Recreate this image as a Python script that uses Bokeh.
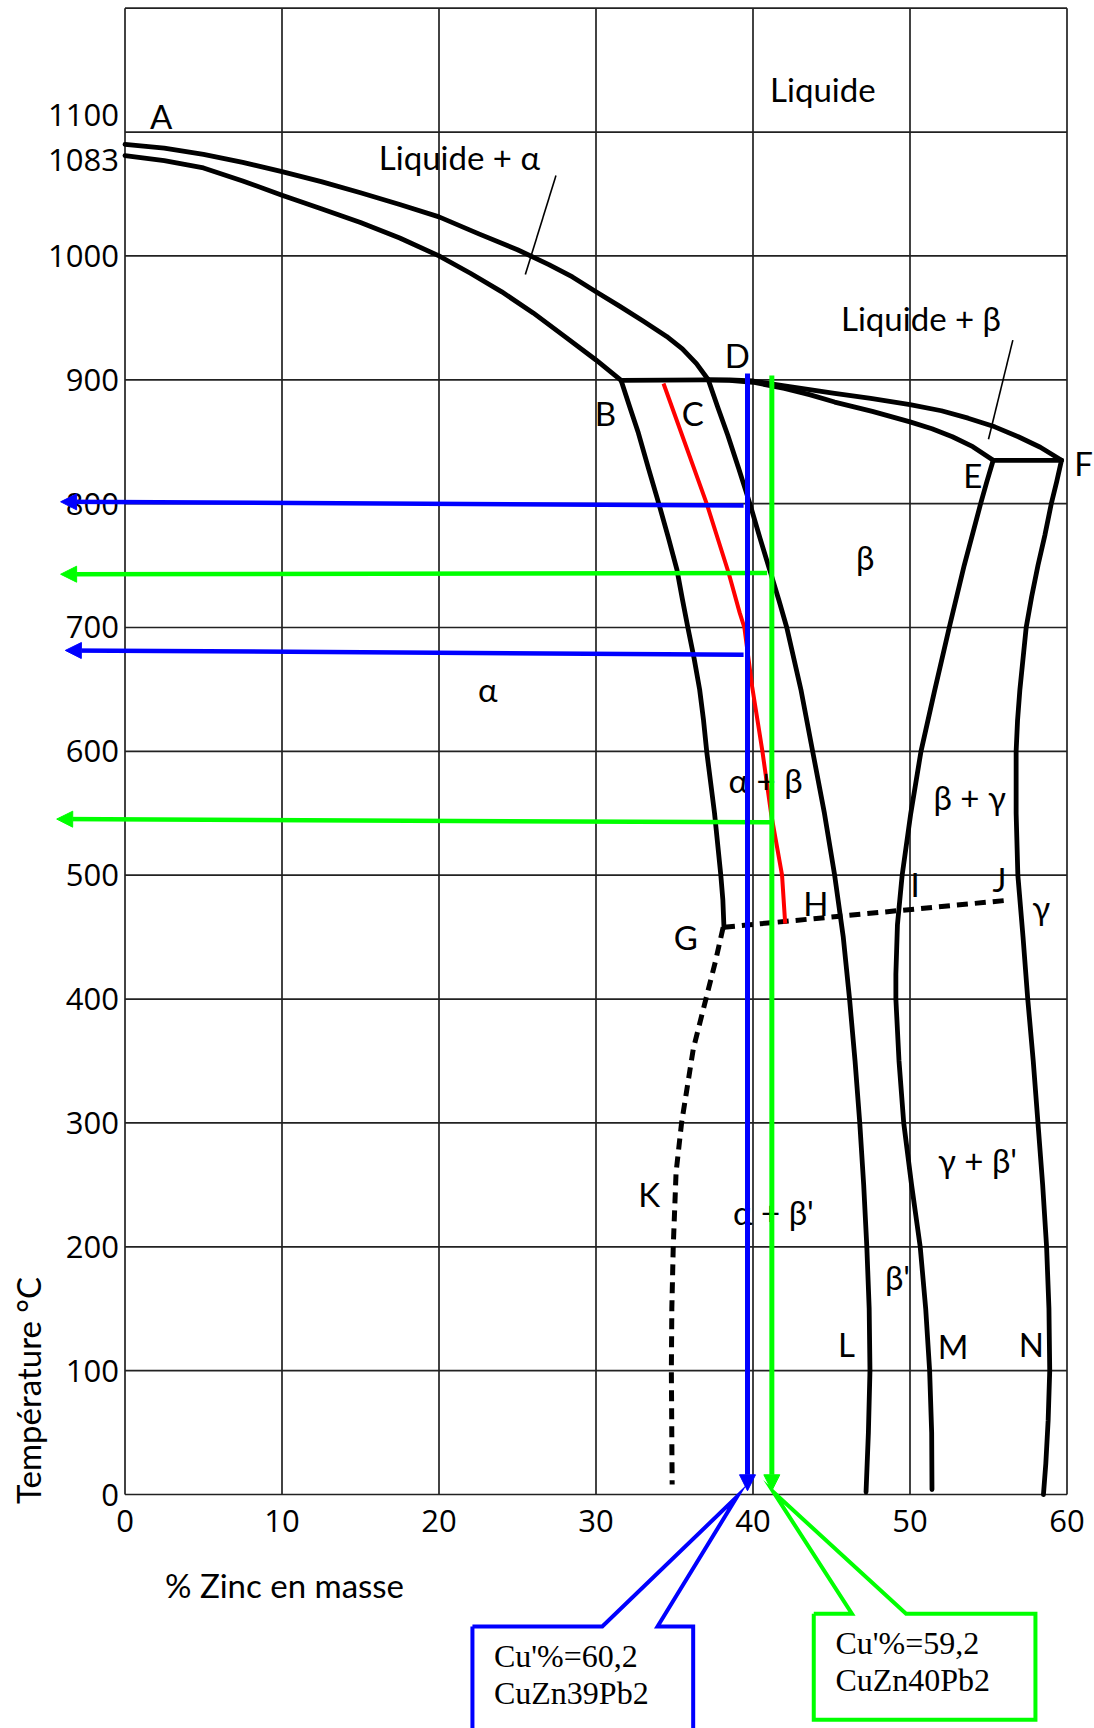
from math import pi
from bokeh.plotting import figure
from bokeh.models import Range1d, FixedTicker, Arrow, NormalHead, Label, LinearAxis
from bokeh.core.properties import value
from bokeh.embed import file_html
from bokeh.resources import INLINE

# ---------------- data ----------------
x_ticks = [0, 10, 20, 30, 40, 50, 60]
y_ticks = [0, 100, 200, 300, 400, 500, 600, 700, 800, 900, 1000, 1100]
y_axis_ticks = [0, 100, 200, 300, 400, 500, 600, 700, 800, 900, 1000]
y_top_tick = 1100
cu_melting = 1083
x_max = 60
t_max = 1200

# liquidus A -> C
liq_a_x = [0, 2.5, 5, 7.5, 10, 12.5, 15, 17.5, 20, 22.5, 25, 27, 28.5, 30, 31.5, 33, 34.5, 35.5, 36.4, 37.15]
liq_a_t = [1090, 1087, 1082, 1075.5, 1068, 1060, 1051, 1041.5, 1031.5, 1018, 1005, 993, 983, 971, 959.5, 947.5, 935, 925, 913, 900]
# solidus A -> B
sol_a_x = [0, 2.5, 5, 7.5, 10, 12.5, 15, 17.5, 20, 22, 24, 26, 28, 30, 31.6]
sol_a_t = [1081, 1077, 1071, 1060.5, 1049, 1038, 1027, 1014.5, 1000, 986, 971, 954, 935, 916, 899.5]
# peritectic B -> C
per_x = [31.6, 37.15]
per_t = [899.5, 900]
# liquidus C -> F
liq_b_x = [37.15, 38.5, 40, 42, 45.2, 47.5, 50, 52, 53.7, 55.4, 56.9, 58.3, 59.65]
liq_b_t = [900, 900, 899, 895, 889, 885, 880, 875, 869, 862, 854, 845.5, 835]
# solidus C -> E
sol_b_x = [37.15, 38.5, 40, 42, 43.6, 45.2, 47.6, 50, 51.4, 52.7, 54.0, 55.3]
sol_b_t = [900, 899.5, 898, 893, 888, 882, 874.5, 866, 860.5, 854, 846, 835]
# E - F
ef_x = [55.3, 59.65]
ef_t = [835, 835]
# B -> G
bg_x = [31.6, 32.15, 32.7, 33.35, 34.0, 34.6, 35.15, 35.5, 35.85, 36.25, 36.6, 36.85, 37.05, 37.3, 37.55, 37.75, 37.95, 38.08, 38.15]
bg_t = [899.5, 878, 857, 828, 800, 773, 747, 723, 700, 675, 650, 625, 600, 575, 550, 525, 500, 480, 458]
# C -> L
cl_x = [37.15, 37.75, 38.4, 39.1, 39.8, 40.45, 41.1, 41.65, 42.15, 43.05, 43.8, 44.55, 45.2, 45.75, 46.15, 46.5, 46.8, 47.05, 47.25, 47.4, 47.45, 47.35, 47.2]
cl_t = [900, 878, 855, 828, 800, 772, 745, 722, 700, 650, 600, 550, 500, 450, 400, 350, 300, 250, 200, 150, 100, 50, 2]
# E -> M
em_x = [55.3, 54.9, 54.5, 53.45, 52.5, 51.55, 50.7, 50.05, 49.5, 49.2, 49.1, 49.1, 49.3, 49.6, 50.1, 50.65, 51.0, 51.25, 51.38, 51.4]
em_t = [835, 818, 800, 750, 700, 648, 600, 550, 500, 460, 420, 400, 350, 300, 250, 200, 150, 100, 50, 4]
# F -> N
fn_x = [59.65, 59.35, 59.0, 58.6, 58.15, 57.75, 57.4, 57.2, 57.0, 56.85, 56.76, 56.76, 56.87, 57.2, 57.5, 57.85, 58.15, 58.45, 58.7, 58.85, 58.9, 58.8, 58.65, 58.5]
fn_t = [835, 818, 800, 775, 750, 725, 700, 675, 650, 625, 600, 550, 500, 450, 400, 350, 300, 250, 200, 150, 100, 60, 25, 0]
# dashed G - J and G - K
gj_x = [38.15, 56.4]
gj_t = [458, 480]
gk_x = [38.1, 37.6, 37.0, 36.2, 35.45, 35.1, 34.92, 34.83, 34.8, 34.85]
gk_t = [458, 430, 400, 360, 300, 260, 200, 150, 100, 8]
# red line
red_x = [34.3, 37.05, 38.45, 39.15, 39.45, 39.95, 40.6, 41.15, 41.85, 42.05]
red_t = [897, 800, 744, 712, 700, 652, 600, 550, 500, 461]
# leader lines
lead_a_x = [27.45, 25.5]
lead_a_t = [1065, 985]
lead_b_x = [56.55, 55.0]
lead_b_t = [932, 852]

# alloys (vertical arrows)
alloy_x = [39.65, 41.2]
alloy_t_top = [905, 903.5]
alloy_t_end = [3, 3]
alloy_col = ["#0000ff", "#00ff00"]
# temperature readings (horizontal arrows)
read_x0 = [39.4, 40.9, 39.4, 41.1]
read_t0 = [798.5, 744, 678, 542.7]
read_x1 = [-4.1, -4.1, -3.8, -4.35]
read_t1 = [801.5, 743, 681.5, 545.3]
read_col = ["#0000ff", "#00ff00", "#0000ff", "#00ff00"]

# callouts
blue_call_x = [22.13, 30.4, 39.0, 33.92, 36.19, 36.19, 22.13, 22.13]
blue_call_t = [-106.6, -106.6, -1.5, -106.6, -106.6, -215, -215, -106.6]
green_call_x = [43.87, 46.3, 41.3, 49.75, 57.99, 57.99, 43.87, 43.87]
green_call_t = [-96.3, -96.3, 2.0, -96.3, -96.3, -181.9, -181.9, -96.3]
blue_text = ["Cu'%=60,2", "CuZn39Pb2"]
blue_text_x = [23.5, 23.5]
blue_text_t = [-130.5, -160.4]
green_text = ["Cu'%=59,2", "CuZn40Pb2"]
green_text_x = [45.25, 45.25]
green_text_t = [-120.2, -149.8]

# region labels
reg_text = ["Liquide", "Liquide + α", "Liquide + β", "α", "β", "α + β", "β + γ", "γ", "γ + β'", "α + β'", "β'"]
reg_x = [44.45, 21.3, 50.7, 23.1, 47.15, 40.8, 53.8, 58.35, 54.3, 41.3, 49.2]
reg_t = [1135, 1080, 950, 650, 757, 577, 563, 474, 270, 228, 176]
# point labels
pt_text = ["A", "B", "C", "D", "E", "F", "G", "H", "I", "J", "K", "L", "M", "N"]
pt_x = [2.3, 30.6, 36.17, 39.0, 54.0, 61.05, 35.72, 44.0, 50.33, 55.7, 33.38, 45.95, 52.75, 57.73]
pt_t = [1113, 873, 873, 920, 823, 833, 450, 477.5, 493, 497, 243, 121.5, 120, 121.5]

# ---------------- layout (pixels) ----------------
CANVAS_W, CANVAS_H = 1094, 1728
BOX_LEFT, BOX_RIGHT = 124.5, 1066.5     # x = 0 and x = 60
BOX_TOP, BOX_BOTTOM = 7.7, 1494.0       # T = 1200 and T = 0
kx = (BOX_RIGHT - BOX_LEFT) / x_max
ky = (BOX_BOTTOM - BOX_TOP) / t_max
x_range = Range1d(-BOX_LEFT / kx, (CANVAS_W - BOX_LEFT) / kx)
y_range = Range1d(-(CANVAS_H - BOX_BOTTOM) / ky, BOX_BOTTOM / ky)

SANS = "Lato"
TICK_FONT = "Open Sans"
TICK_SIZE = "31px"
p = figure(width=CANVAS_W, height=CANVAS_H, x_range=x_range, y_range=y_range,
           output_backend="svg", toolbar_location=None, x_axis_location=None, y_axis_location=None,
           min_border=0)
p.background_fill_color = "white"
p.border_fill_color = "white"
p.outline_line_color = None
p.xgrid.visible = False
p.ygrid.visible = False

# axes fixed on the box edges
xax = LinearAxis(ticker=FixedTicker(ticks=x_ticks), fixed_location=0)
yax = LinearAxis(ticker=FixedTicker(ticks=y_axis_ticks), fixed_location=0)
for ax in (xax, yax):
    ax.axis_line_color = None
    ax.major_tick_line_color = None
    ax.minor_tick_line_color = None
    ax.major_tick_out = 0
    ax.major_tick_in = 0
    ax.major_label_text_font = TICK_FONT
    ax.major_label_text_font_size = TICK_SIZE
    ax.major_label_text_color = "black"
xax.major_label_standoff = 15
yax.major_label_standoff = 6
p.add_layout(xax, "below")
p.add_layout(yax, "left")

# the two top labels are pushed apart, as in the original drawing
for t, dy in [(y_top_tick, 17), (cu_melting, -7)]:
    p.add_layout(Label(x=0, y=t, text=str(t), x_offset=-6, y_offset=dy,
                       text_align="right", text_baseline="middle", text_font=TICK_FONT,
                       text_font_size=TICK_SIZE, text_color="black"))

# grid and box
GRID = "#222222"
p.segment(x0=x_ticks, y0=[0] * len(x_ticks), x1=x_ticks, y1=[t_max] * len(x_ticks),
          line_color=GRID, line_width=1.7)
p.segment(x0=[0] * len(y_ticks), y0=y_ticks, x1=[x_max] * len(y_ticks), y1=y_ticks,
          line_color=GRID, line_width=1.7)
p.segment(x0=[0], y0=[t_max], x1=[x_max], y1=[t_max], line_color=GRID, line_width=1.7)

BW = 4.8
for xs, ts in [(liq_a_x, liq_a_t), (sol_a_x, sol_a_t), (per_x, per_t), (liq_b_x, liq_b_t),
               (sol_b_x, sol_b_t), (ef_x, ef_t), (bg_x, bg_t), (cl_x, cl_t), (em_x, em_t), (fn_x, fn_t)]:
    p.line(xs, ts, line_color="black", line_width=BW, line_join="round", line_cap="round")
for xs, ts in [(gj_x, gj_t), (gk_x, gk_t)]:
    p.line(xs, ts, line_color="black", line_width=5, line_dash="11 7")
for xs, ts in [(lead_a_x, lead_a_t), (lead_b_x, lead_b_t)]:
    p.line(xs, ts, line_color="black", line_width=1.6)
p.line(red_x, red_t, line_color="#ff0000", line_width=4)

for i in range(len(read_x0)):
    c = read_col[i]
    p.add_layout(Arrow(x_start=read_x0[i], y_start=read_t0[i], x_end=read_x1[i], y_end=read_t1[i],
                       line_color=c, line_width=4.5,
                       end=NormalHead(size=16, fill_color=c, line_color=c, line_width=1)))
for i in range(len(alloy_x)):
    c = alloy_col[i]
    p.add_layout(Arrow(x_start=alloy_x[i], y_start=alloy_t_top[i], x_end=alloy_x[i], y_end=alloy_t_end[i],
                       line_color=c, line_width=5,
                       end=NormalHead(size=16, fill_color=c, line_color=c, line_width=1)))

p.text(reg_x, reg_t, text=reg_text, text_font=value(SANS), text_font_size=value("33px"),
       text_align="center", text_baseline="middle", text_color="black")
p.text(pt_x, pt_t, text=pt_text, text_font=value(SANS), text_font_size=value("33px"),
       text_align="center", text_baseline="middle", text_color="black")

p.line(blue_call_x, blue_call_t, line_color="#0000ff", line_width=4, line_join="miter")
p.line(green_call_x, green_call_t, line_color="#00ff00", line_width=4, line_join="miter")
p.text(blue_text_x + green_text_x, blue_text_t + green_text_t, text=blue_text + green_text,
       text_font=value("Liberation Serif"), text_font_size=value("32px"),
       text_align="left", text_baseline="alphabetic", text_color="black")

p.add_layout(Label(x=-6.18, y=84, text="Température °C", angle=pi / 2, text_align="center",
                   text_baseline="middle", text_font=SANS, text_font_size="33px", text_color="black"))
p.add_layout(Label(x=10.16, y=-72.7, text="% Zinc en masse", text_align="center",
                   text_baseline="middle", text_font=SANS, text_font_size="33px", text_color="black"))

open("out.html", "w").write(file_html(p, INLINE))
